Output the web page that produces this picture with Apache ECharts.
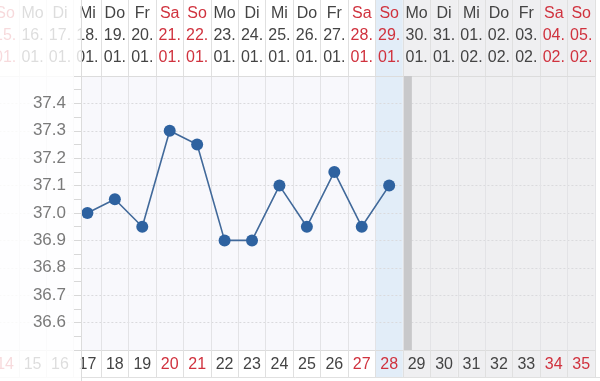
<!DOCTYPE html>
<html><head><meta charset="utf-8">
<script src="https://cdn.jsdelivr.net/npm/echarts@6/dist/echarts.min.js"></script>
<style>html,body{margin:0;padding:0;background:#fff;overflow:hidden;width:600px;height:381px}
#c{position:absolute;left:-9px;top:0;width:609px;height:381px}</style>
</head><body><div id="c"></div>
<script>
// ---- data ----
const dayNumbers = ['14','15','16','17','18','19','20','21','22','23','24','25','26','27','28','29','30','31','32','33','34','35'];
const weekdays = ['So','Mo','Di','Mi','Do','Fr','Sa','So','Mo','Di','Mi','Do','Fr','Sa','So','Mo','Di','Mi','Do','Fr','Sa','So'];
const dates = ['15.','16.','17.','18.','19.','20.','21.','22.','23.','24.','25.','26.','27.','28.','29.','30.','31.','01.','02.','03.','04.','05.'];
const months = ['01.','01.','01.','01.','01.','01.','01.','01.','01.','01.','01.','01.','01.','01.','01.','01.','01.','02.','02.','02.','02.','02.'];
const temperatures = [null,null,null,37.0,37.05,36.95,37.3,37.25,36.9,36.9,37.1,36.95,37.15,36.95,37.1,null,null,null,null,null,null,null];
const columnState = ['past','past','past','past','past','past','past','past','past','past','past','past','past','past','today','future','future','future','future','future','future','future'];
const yMin = 36.5, yMax = 37.5, yStep = 0.1;

// ---- layout (chart canvas is shifted 9px left of the page) ----
const OFF = 9;
const COLW = 27.44;
const gridWidth = dayNumbers.length * COLW;
const gridLeft = 101 + OFF - 4 * COLW;
const PLOT_TOP = 76, PLOT_BOTTOM = 350, PANEL_X = 81 + OFF;
const RED = '#d0323e', DARK = '#444';
const isWeekend = i => weekdays[i] === 'Sa' || weekdays[i] === 'So';
const FONT = "'Liberation Sans', Arial, Helvetica, sans-serif";

const chart = echarts.init(document.getElementById('c'));
chart.setOption({
  animation: false,
  backgroundColor: '#fff',
  textStyle: { fontFamily: FONT },
  grid: [
    { left: gridLeft, width: gridWidth, top: PLOT_TOP, height: PLOT_BOTTOM - PLOT_TOP,
      show: true, backgroundColor: '#f8f8fc', borderWidth: 0 },
    { left: gridLeft, width: gridWidth, top: 0, height: 377 },
    { left: PANEL_X, width: 5, top: PLOT_TOP, height: PLOT_BOTTOM - PLOT_TOP }
  ],
  xAxis: [
    { type: 'category', gridIndex: 0, data: dayNumbers, boundaryGap: true, position: 'bottom', z: 5,
      axisLine: { show: true, lineStyle: { color: '#dcdcdc', width: 1 } },
      axisTick: { show: true, interval: 0, length: 27, lineStyle: { color: '#e0e0e0' } },
      axisLabel: { interval: 0, margin: 7, fontSize: 16, fontFamily: FONT,
        color: (v, i) => isWeekend(i) ? RED : DARK },
      splitLine: { show: true, interval: 0, lineStyle: { color: '#e3e3e6', width: 1 } } },
    { type: 'category', gridIndex: 0, data: dayNumbers, boundaryGap: true, position: 'top', z: 5,
      axisLine: { show: true, lineStyle: { color: '#dcdcdc', width: 1 } },
      axisTick: { show: true, interval: 0, length: 76, lineStyle: { color: '#e0e0e0' } },
      axisLabel: { interval: 0, margin: 7, fontSize: 16, lineHeight: 22, fontFamily: FONT,
        formatter: (v, i) => weekdays[i] + '\n' + dates[i] + '\n' + months[i],
        color: (v, i) => isWeekend(i) ? RED : DARK },
      splitLine: { show: false } },
    { type: 'category', gridIndex: 1, data: dayNumbers, boundaryGap: true, show: false },
    { type: 'value', gridIndex: 2, show: false }
  ],
  yAxis: [
    { type: 'value', gridIndex: 0, min: yMin, max: yMax, interval: yStep, z: 5,
      axisLine: { show: false }, axisTick: { show: false }, axisLabel: { show: false },
      splitLine: { show: true, lineStyle: { color: '#dadadd', type: [2, 2], width: 1 } } },
    { type: 'value', gridIndex: 1, min: 0, max: 1, show: false },
    { type: 'value', gridIndex: 2, min: yMin, max: yMax, interval: yStep, z: 20,
      axisLine: { show: true, lineStyle: { color: '#dcdcdc' } },
      axisTick: { show: true, length: 7, lineStyle: { color: '#d8d8d8' } },
      minorTick: { show: true, splitNumber: 2, length: 7, lineStyle: { color: '#d8d8d8' } },
      axisLabel: { margin: 15, fontSize: 17, color: '#7a7a7a', fontFamily: FONT,
        showMinLabel: false, showMaxLabel: false, formatter: v => v.toFixed(1) },
      splitLine: { show: false } }
  ],
  series: [
    { type: 'bar', xAxisIndex: 2, yAxisIndex: 1, silent: true, barWidth: '100%', barCategoryGap: 0, z: 1,
      data: columnState.map(s => ({ value: 1, itemStyle: { color: s === 'today' ? '#e2edf8' : s === 'future' ? '#efeff1' : 'rgba(0,0,0,0)' } })) },
    { type: 'line', xAxisIndex: 0, yAxisIndex: 0, data: temperatures, z: 8, connectNulls: false,
      symbol: 'circle', symbolSize: 12, showSymbol: true,
      lineStyle: { color: '#41699a', width: 1.6 },
      itemStyle: { color: '#2e62a0' } }
  ]
});

const futureIdx = columnState.indexOf('future');
const stripX = chart.convertToPixel({ xAxisIndex: 0 }, futureIdx) - COLW / 2;
chart.setOption({
  graphic: [
    { type: 'rect', z: 7, silent: true, shape: { x: stripX + 1, y: PLOT_TOP, width: 8, height: PLOT_BOTTOM - PLOT_TOP },
      style: { fill: '#c8c8ca' } },
    { type: 'rect', z: 15, silent: true, shape: { x: 0, y: 0, width: PANEL_X, height: 381 },
      style: { fill: 'rgba(255,255,255,0.82)' } },
    { type: 'line', z: 16, silent: true, shape: { x1: PANEL_X + 0.5, y1: 0, x2: PANEL_X + 0.5, y2: 381 },
      style: { stroke: '#dcdcdc', lineWidth: 1 } },
    { type: 'line', z: 6, silent: true, shape: { x1: 0, y1: 377.5, x2: 609, y2: 377.5 },
      style: { stroke: '#e0e0e0', lineWidth: 1 } }
  ]
});
</script></body></html>
